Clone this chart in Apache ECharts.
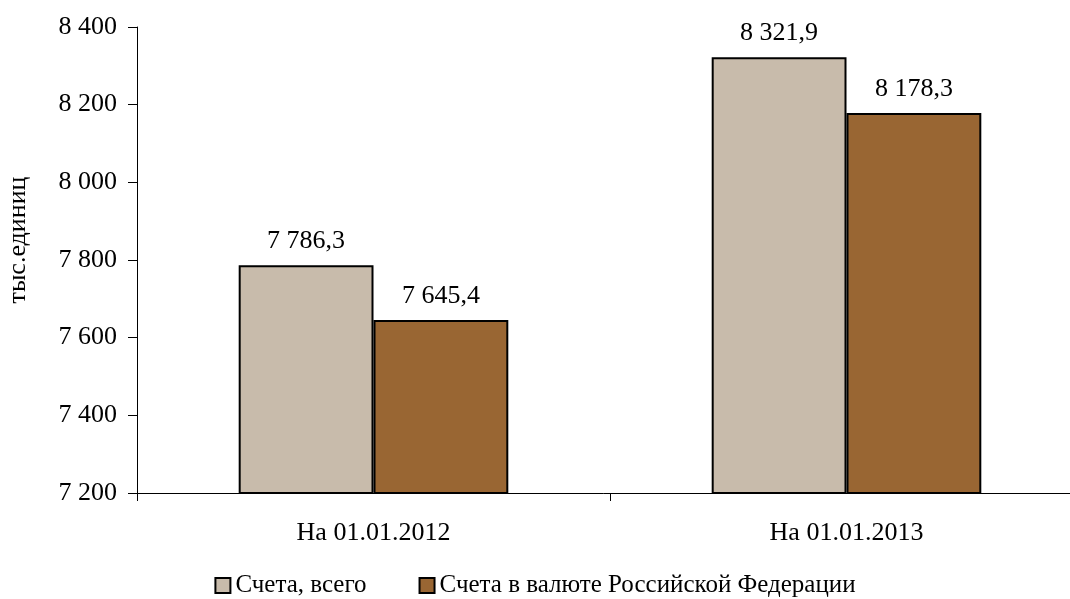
<!DOCTYPE html>
<html><head><meta charset="utf-8">
<script src="https://cdn.jsdelivr.net/npm/echarts@6/dist/echarts.min.js"></script>
<style>html,body{margin:0;padding:0;background:#fff}#c{width:1070px;height:599px}</style>
</head><body><div id="c"></div>
<script>
const categories = ['На 01.01.2012', 'На 01.01.2013'];
const seriesNames = ['Счета, всего', 'Счета в валюте Российской Федерации'];
const totalAccounts = [7786.3, 8321.9];
const rubAccounts = [7645.4, 8178.3];
const yTicks = [7200, 7400, 7600, 7800, 8000, 8200, 8400];

function fmtInt(v){ return String(Math.round(v)).replace(/\B(?=(\d{3})+(?!\d))/g, ' '); }
function fmtDec(v){ const s = v.toFixed(1).split('.'); return s[0].replace(/\B(?=(\d{3})+(?!\d))/g, ' ') + ',' + s[1]; }

const font = 'Liberation Serif, Times New Roman, serif';
const fs = 26;
const chart = echarts.init(document.getElementById('c'));
const lbl = {show:true, position:'top', distance:11, color:'#000', fontFamily:font, fontSize:fs, formatter:p=>fmtDec(p.value)};
chart.setOption({
  animation:false,
  textStyle:{fontFamily:font},
  grid:{left:137, right:-13, top:27, bottom:106, containLabel:false, outerBoundsMode:'none'},
  legend:{bottom:-4, left:'center', itemWidth:15, itemHeight:15, itemGap:52, icon:'rect',
    itemStyle:{borderColor:'#000', borderWidth:2},
    textStyle:{fontFamily:font, fontSize:25, color:'#000', padding:[0,0,0,0]},
    data:seriesNames},
  xAxis:{type:'category', data:categories,
    axisLine:{lineStyle:{color:'#000', width:1}},
    axisTick:{show:true, length:8, lineStyle:{color:'#000'}},
    axisLabel:{color:'#000', fontFamily:font, fontSize:fs, margin:27}},
  yAxis:{type:'value', min:yTicks[0], max:yTicks[yTicks.length-1], interval:200,
    name:'тыс.единиц', nameLocation:'middle', nameGap:106, nameRotate:90,
    nameTextStyle:{color:'#000', fontFamily:font, fontSize:fs, padding:[0,0,0,40]},
    axisLine:{show:true, lineStyle:{color:'#000', width:1}},
    axisTick:{show:true, length:9, lineStyle:{color:'#000'}},
    splitLine:{show:false},
    axisLabel:{color:'#000', fontFamily:font, fontSize:fs, margin:20, formatter:v=>fmtInt(v)}},
  series:[
    {name:seriesNames[0], type:'bar', data:totalAccounts, barGap:'0%', barCategoryGap:'43%',
      itemStyle:{color:'#C8BBAB', borderColor:'#000', borderWidth:2}, label:lbl},
    {name:seriesNames[1], type:'bar', data:rubAccounts,
      itemStyle:{color:'#996633', borderColor:'#000', borderWidth:2}, label:lbl}
  ]
});
</script></body></html>
